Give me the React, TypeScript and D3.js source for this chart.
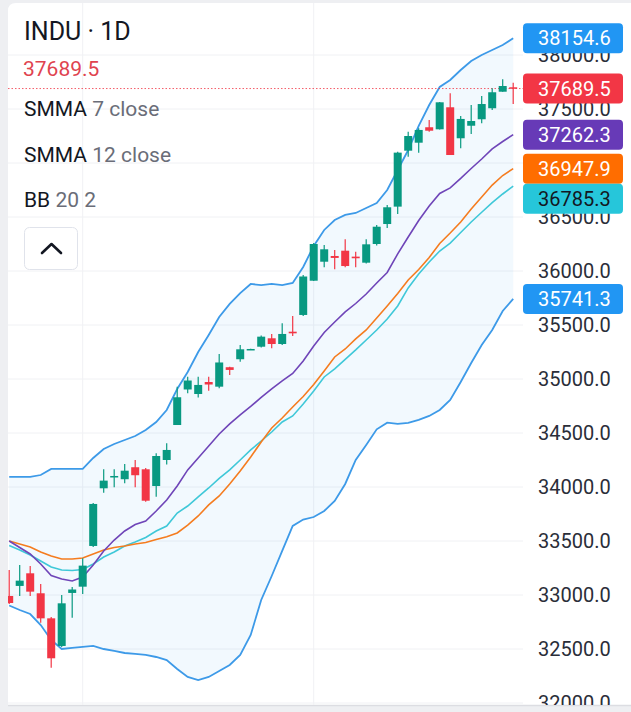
import React from "react";
import * as d3 from "d3";

const opens = [32991,33084,33201,33016,32784,32528,33019,33077,33454,33988,34090,34072,34183,34164,34009,34250,34574,34903,34861,34972,34929,35109,35183,35271,35299,35377,35324,35438,35593,35910,36086,36139,36188,36133,36077,36250,36435,36596,37114,37188,37331,37312,37516,37229,37345,37405,37507,37660,37701];
const highs = [33232,33278,33269,33102,32797,33000,33074,33340,33852,34164,34164,34213,34250,34176,34312,34405,34929,35021,35021,35021,35232,35114,35315,35281,35403,35417,35516,35584,35963,36259,36241,36195,36294,36179,36294,36426,36611,37105,37290,37321,37398,37565,37645,37435,37537,37620,37692,37775,37744];
const lows = [32917,32991,32991,32744,32327,32519,32790,33010,33445,33947,33997,34034,33997,33864,33910,34209,34574,34868,34829,34892,34914,35037,35160,35269,35292,35284,35315,35398,35584,35908,36034,36016,36034,36034,36069,36236,36398,36528,37058,37095,37290,37310,37074,37136,37269,37368,37491,37660,37546];
const closes = [32926,33133,33031,32784,32414,32923,33051,33272,33843,34059,34102,34151,34109,33873,34287,34343,34831,34986,34945,34949,35153,35084,35275,35278,35392,35324,35417,35423,35949,36250,36201,36121,36046,36118,36247,36410,36590,37096,37250,37306,37299,37562,37074,37408,37389,37546,37655,37713,37689.5];

const bbUpper = [34093,34093,34093,34111,34167,34167,34167,34167,34269,34352,34398,34435,34472,34528,34602,34713,34907,35065,35250,35408,35574,35695,35796,35880,35870,35880,35870,35889,36037,36232,36380,36472,36519,36537,36583,36630,36750,36935,37120,37343,37537,37704,37769,37861,37944,38000,38046,38093,38154.6];
const bbLower = [32903,32861,32824,32722,32584,32500,32510,32519,32528,32500,32482,32463,32454,32445,32426,32398,32315,32241,32213,32241,32297,32352,32445,32630,32954,33176,33408,33639,33699,33722,33778,33871,34028,34250,34389,34534,34596,34584,34593,34621,34658,34713,34806,34972,35148,35315,35454,35630,35741.3];
const smma7 = [33500,33440,33380,33287,33180,33148,33130,33167,33278,33408,33509,33593,33653,33685,33778,33880,34009,34158,34269,34380,34491,34584,34667,34746,34829,34908,34982,35051,35167,35306,35431,35528,35621,35699,35787,35889,35986,36158,36315,36468,36602,36718,36769,36857,36949,37037,37130,37199,37262.3];
const bbBasis = [33500,33472,33445,33398,33361,33334,33334,33343,33380,33417,33440,33454,33472,33486,33514,33540,33574,33648,33732,33834,33917,34028,34148,34278,34417,34546,34639,34741,34838,34949,35074,35204,35278,35371,35454,35565,35676,35792,35917,36014,36125,36255,36352,36454,36574,36685,36796,36884,36947.9];
const smma12 = [33459,33417,33371,33315,33259,33232,33227,33236,33287,33352,33398,33454,33491,33533,33593,33639,33759,33824,33908,33991,34079,34158,34250,34343,34426,34509,34602,34658,34769,34889,35019,35093,35181,35269,35361,35454,35556,35676,35843,35972,36083,36185,36259,36356,36454,36544,36633,36713,36785.3];

const yTicks = [38000,37500,37000,36500,36000,35500,35000,34500,34000,33500,33000,32500,32000];
const monthStarts = [7, 29];

const lastLabels = [
  { value: 38154.6, shown: 38154.6, color: "#2196f3", text: "#ffffff" },
  { value: 37689.5, shown: 37689.5, color: "#f23645", text: "#ffffff" },
  { value: 37262.3, shown: 37262.3, color: "#673ab7", text: "#ffffff" },
  { value: 36947.9, shown: 36947.9, color: "#ff6d00", text: "#ffffff" },
  { value: 36785.3, shown: 36785.3, color: "#26c6da", text: "#131722" },
  { value: 35741.3, shown: 35741.3, color: "#2196f3", text: "#ffffff" },
];

const W = 631, H = 712;
const FONT = "Roboto, 'Noto Sans', sans-serif";
const UP = "#089981", DOWN = "#f23645";

export default function App() {
  const n = closes.length;
  const x = d3.scaleLinear().domain([0, n - 1]).range([9.2, 513.2]);
  const y = d3.scaleLinear().domain([32000, 38000]).range([703, 55]);
  const idx = d3.range(n);

  const area = d3.area<number>().x((i) => x(i)).y0((i) => y(bbLower[i])).y1((i) => y(bbUpper[i]));
  const line = (arr: number[]) => d3.line<number>().x((i) => x(i)).y((i) => y(arr[i]))(idx) || "";

  const plotL = 8, plotR = 523, plotT = 3, plotB = 705;
  const bodyW = 8;

  // label boxes with overlap resolution
  const boxH = 30;
  const placed: { y: number; l: (typeof lastLabels)[0] }[] = [];
  lastLabels.forEach((l) => {
    let cy = y(l.value);
    const prev = placed[placed.length - 1];
    if (prev && cy - prev.y < boxH) cy = prev.y + boxH;
    placed.push({ y: cy, l });
  });

  return (
    <svg width={W} height={H} style={{ position: "absolute", left: 0, top: 0, fontFamily: FONT }}>
      <defs>
        <clipPath id="plot"><rect x={plotL} y={plotT} width={plotR - plotL} height={plotB - plotT} /></clipPath>
        <clipPath id="card"><rect x={plotL} y={plotT} width={W - plotL} height={plotB - plotT} /></clipPath>
      </defs>
      <rect x={0} y={0} width={W} height={H} fill="#eeeff2" />
      <path d={`M${plotL},${plotT + 8} Q${plotL},${plotT} ${plotL + 8},${plotT} L${W},${plotT} L${W},${plotB} L${plotL},${plotB} Z`} fill="#ffffff" />
      <line x1={plotL} x2={W} y1={plotB + 0.5} y2={plotB + 0.5} stroke="#dcdde2" strokeWidth={1.5} />
      <g clipPath="url(#plot)">
        {yTicks.map((t) => (
          <line key={t} x1={plotL} x2={plotR} y1={y(t)} y2={y(t)} stroke="#f0f1f4" strokeWidth={1} />
        ))}
        {monthStarts.map((i) => (
          <line key={i} x1={x(i)} x2={x(i)} y1={plotT} y2={plotB} stroke="#f0f1f4" strokeWidth={1} />
        ))}
        <path d={area(idx) || ""} fill="rgba(33,150,243,0.06)" />
        <path d={line(bbUpper)} fill="none" stroke="#3d9ae8" strokeWidth={1.8} />
        <path d={line(bbLower)} fill="none" stroke="#3d9ae8" strokeWidth={1.8} />
        <path d={line(smma12)} fill="none" stroke="#3fc8d8" strokeWidth={1.6} />
        <path d={line(bbBasis)} fill="none" stroke="#f57c1f" strokeWidth={1.6} />
        <path d={line(smma7)} fill="none" stroke="#6f45b8" strokeWidth={1.6} />
        <line x1={plotL} x2={plotR} y1={y(closes[n - 1])} y2={y(closes[n - 1])} stroke="#f23645" strokeWidth={1} strokeDasharray="1.5,2" opacity={0.8} />
        {idx.map((i) => {
          const up = closes[i] >= opens[i];
          const c = up ? UP : DOWN;
          const top = y(Math.max(opens[i], closes[i]));
          const bot = y(Math.min(opens[i], closes[i]));
          return (
            <g key={i}>
              <line x1={x(i)} x2={x(i)} y1={y(highs[i])} y2={y(lows[i])} stroke={c} strokeWidth={1.2} />
              <rect x={x(i) - bodyW / 2} y={top} width={bodyW} height={Math.max(1.5, bot - top)} fill={c} />
            </g>
          );
        })}
      </g>
      <g clipPath="url(#card)">
        {yTicks.map((t) => (
          <text key={t} x={538} y={y(t) + 7} fontSize={20} fill="#2a2e39">{t.toFixed(1)}</text>
        ))}
        {placed.map(({ y: cy, l }, k) => (
          <g key={k}>
            <rect x={523} y={cy - boxH / 2} width={100} height={boxH} rx={4} fill={l.color} />
            <text x={538} y={cy + 7} fontSize={20} fill={l.text}>{l.shown.toFixed(1)}</text>
          </g>
        ))}
      </g>
      <text x={24} y={40} fontSize={25} fill="#131722">INDU · 1D</text>
      <text x={23} y={76} fontSize={21} fill="#e0434f">{closes[n - 1].toFixed(1)}</text>
      <text x={24} y={116} fontSize={21} fill="#131722">SMMA <tspan fill="#6a6d78">7 close</tspan></text>
      <text x={24} y={161.7} fontSize={21} fill="#131722">SMMA <tspan fill="#6a6d78">12 close</tspan></text>
      <text x={24} y={206.7} fontSize={21} fill="#131722">BB <tspan fill="#6a6d78">20 2</tspan></text>
      <rect x={24.5} y={227.5} width={53} height={42} rx={5} fill="#ffffff" stroke="#e0e3eb" strokeWidth={1} />
      <polyline points="42,253 51.5,244 61,253" fill="none" stroke="#131722" strokeWidth={2.6} strokeLinecap="round" strokeLinejoin="round" />
    </svg>
  );
}
